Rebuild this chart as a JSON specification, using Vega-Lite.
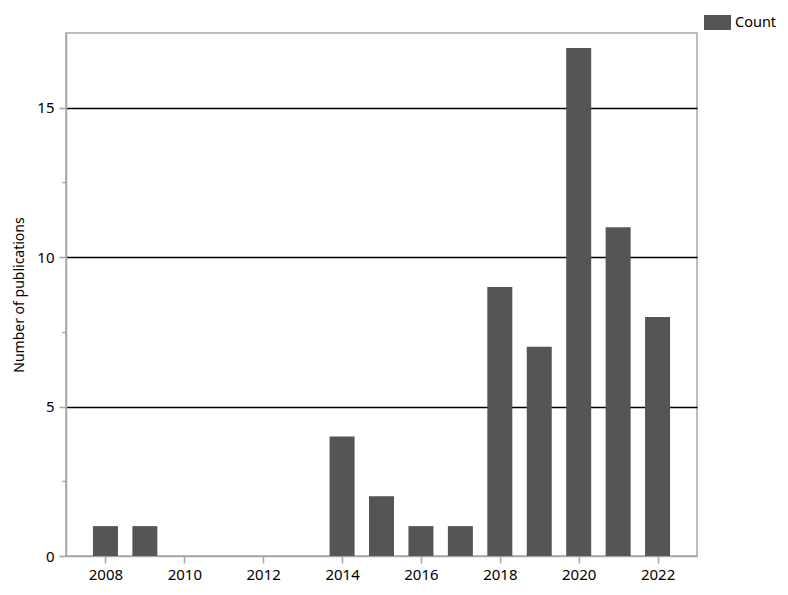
{
  "$schema": "https://vega.github.io/schema/vega-lite/v6.json",
  "width": 631,
  "height": 523,
  "autosize": "none",
  "padding": {"left": 66, "top": 33, "right": 91, "bottom": 39},
  "background": "white",
  "config": {
    "font": "Noto Sans",
    "view": {"stroke": "#a6a6a6", "strokeWidth": 1.5},
    "axis": {"labelFont": "Noto Sans", "titleFont": "Noto Sans", "labelColor": "#000000", "titleColor": "#000000"}
  },
  "data": {
    "values": [
      {"year": 2008, "count": 1, "series": "Count"},
      {"year": 2009, "count": 1, "series": "Count"},
      {"year": 2010, "count": 0, "series": "Count"},
      {"year": 2011, "count": 0, "series": "Count"},
      {"year": 2012, "count": 0, "series": "Count"},
      {"year": 2013, "count": 0, "series": "Count"},
      {"year": 2014, "count": 4, "series": "Count"},
      {"year": 2015, "count": 2, "series": "Count"},
      {"year": 2016, "count": 1, "series": "Count"},
      {"year": 2017, "count": 1, "series": "Count"},
      {"year": 2018, "count": 9, "series": "Count"},
      {"year": 2019, "count": 7, "series": "Count"},
      {"year": 2020, "count": 17, "series": "Count"},
      {"year": 2021, "count": 11, "series": "Count"},
      {"year": 2022, "count": 8, "series": "Count"}
    ]
  },
  "mark": {"type": "bar", "width": 25},
  "encoding": {
    "x": {
      "field": "year",
      "type": "quantitative",
      "scale": {"domain": [2007, 2023], "nice": false, "zero": false, "padding": 0},
      "axis": {
        "title": null,
        "values": [2008, 2010, 2012, 2014, 2016, 2018, 2020, 2022],
        "format": "d",
        "grid": false,
        "domainColor": "#a6a6a6",
        "domainWidth": 1.5,
        "tickColor": "#a6a6a6",
        "tickSize": 7,
        "tickWidth": 1.5,
        "labelFontSize": 15,
        "labelPadding": 4
      }
    },
    "y": {
      "field": "count",
      "type": "quantitative",
      "scale": {"domain": [0, 17.5], "nice": false, "padding": 0},
      "axis": {
        "title": "Number of publications",
        "titleFontSize": 14,
        "titleFontWeight": "normal",
        "titlePadding": 10,
        "values": [0, 2.5, 5, 7.5, 10, 12.5, 15],
        "labelExpr": "datum.value % 5 === 0 ? datum.label : ''",
        "grid": true,
        "gridColor": {"condition": {"test": "datum.value % 5 === 0 && datum.value > 0", "value": "#000000"}, "value": "transparent"},
        "gridWidth": 1.5,
        "domainColor": "#a6a6a6",
        "domainWidth": 1.5,
        "tickColor": "#a6a6a6",
        "tickWidth": 1.5,
        "tickSize": {"condition": {"test": "datum.value % 5 === 0", "value": 7}, "value": 4},
        "labelFontSize": 15,
        "labelPadding": 5
      }
    },
    "color": {
      "field": "series",
      "type": "nominal",
      "scale": {"domain": ["Count"], "range": ["#555555"]},
      "legend": {
        "title": null,
        "orient": "none",
        "legendX": 638,
        "legendY": -24,
        "symbolType": "M-1,-0.556H1V0.556H-1Z",
        "symbolSize": 729,
        "symbolStrokeWidth": 0,
        "labelFontSize": 14.5,
        "labelFont": "Noto Sans",
        "labelColor": "#000000",
        "labelOffset": 4
      }
    }
  }
}
